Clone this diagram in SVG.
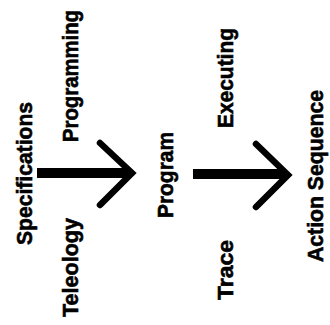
<svg xmlns="http://www.w3.org/2000/svg" width="330" height="325" viewBox="0 0 330 325">
<style>
text{font-family:"Liberation Sans",Arial,sans-serif;font-weight:bold;font-size:22px;fill:#000;stroke:#000;stroke-width:0.6}
.shaft{stroke:#000;stroke-width:10;fill:none}
.head{stroke:#000;stroke-width:6.5;fill:none;stroke-linecap:round;stroke-linejoin:miter}
</style>
<rect width="330" height="325" fill="#fff"/>
<g id="connectors">
<g id="arrow-programming">
<line class="shaft" x1="37" y1="173" x2="129" y2="173"/>
<polyline class="head" points="100,143 132,173 100,205"/>
</g>
<g id="arrow-executing">
<line class="shaft" x1="193" y1="174" x2="285" y2="174"/>
<polyline class="head" points="256,144 288,175 256,207"/>
</g>
</g>
<g id="node-specifications"><text transform="translate(32,245) rotate(-90)" textLength="143" lengthAdjust="spacingAndGlyphs">Specifications</text></g>
<g id="node-teleology"><text transform="translate(78,317) rotate(-90)" textLength="99" lengthAdjust="spacingAndGlyphs">Teleology</text></g>
<g id="label-programming"><text transform="translate(78,142) rotate(-90)" textLength="132" lengthAdjust="spacingAndGlyphs">Programming</text></g>
<g id="node-program"><text transform="translate(173,218) rotate(-90)" textLength="86" lengthAdjust="spacingAndGlyphs">Program</text></g>
<g id="label-executing"><text transform="translate(233,128) rotate(-90)" textLength="100" lengthAdjust="spacingAndGlyphs">Executing</text></g>
<g id="label-trace"><text transform="translate(233,300) rotate(-90)" textLength="60" lengthAdjust="spacingAndGlyphs">Trace</text></g>
<g id="node-action-sequence"><text transform="translate(323,262) rotate(-90)" textLength="172" lengthAdjust="spacingAndGlyphs">Action Sequence</text></g>
</svg>
